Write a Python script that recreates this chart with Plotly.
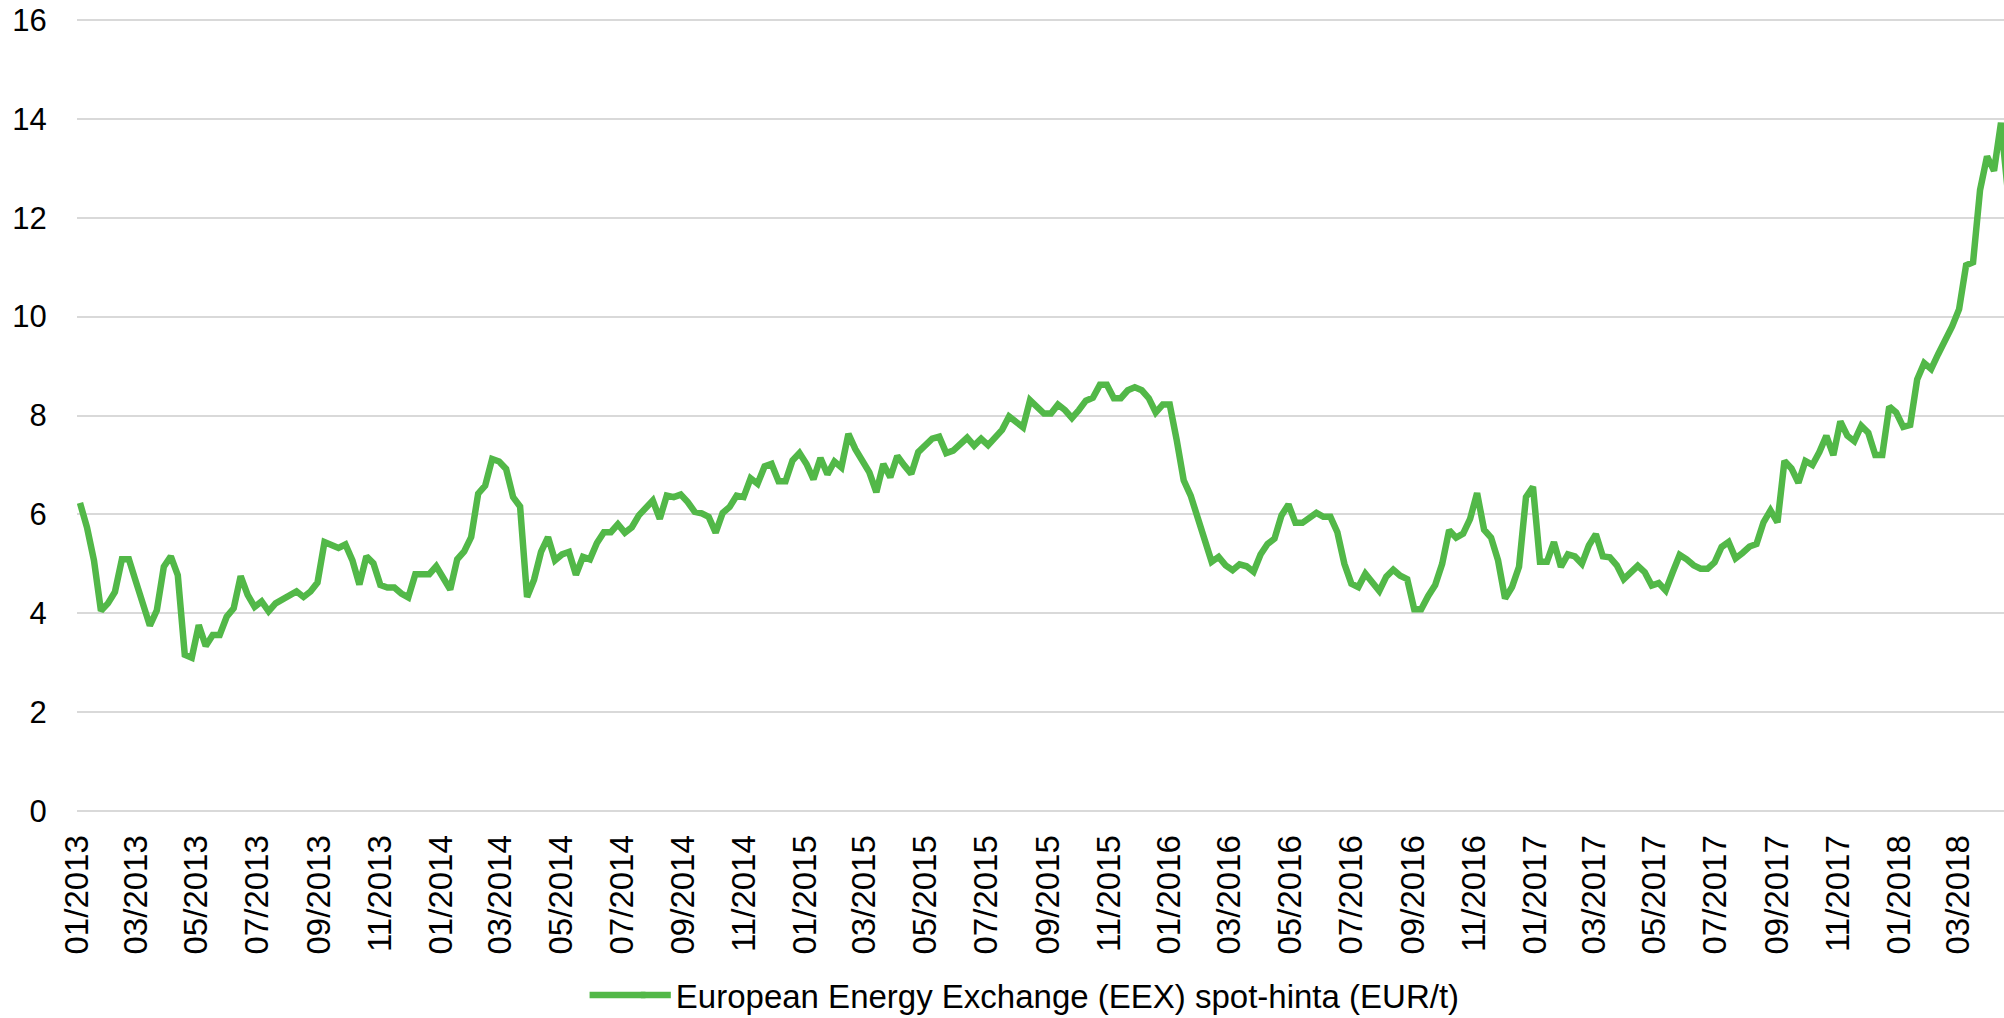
import pandas as pd
import plotly.graph_objects as go

# Weekly EEX spot price for emission allowances, EUR/t (first week of 2013 onwards)
first_week = "2013-01-04"
series_name = "European Energy Exchange (EEX) spot-hinta (EUR/t)"

price_2013 = [
    6.23, 5.74, 5.07, 4.05, 4.20, 4.43, 5.09, 5.09, 4.64, 4.20,
    3.75, 4.06, 4.94, 5.15, 4.77, 3.16, 3.10, 3.76, 3.34, 3.56,
    3.56, 3.93, 4.10, 4.75, 4.37, 4.13, 4.24, 4.04, 4.20, 4.28,
    4.36, 4.44, 4.33, 4.44, 4.62, 5.44, 5.38, 5.32, 5.39, 5.07,
    4.58, 5.15, 5.01, 4.57, 4.52, 4.52, 4.40, 4.32, 4.79, 4.79,
    4.79, 4.95,
]
price_2014 = [
    4.74, 4.48, 5.09, 5.25, 5.54, 6.42, 6.58, 7.12, 7.07, 6.92,
    6.35, 6.16, 4.33, 4.68, 5.24, 5.54, 5.07, 5.19, 5.24, 4.78,
    5.14, 5.09, 5.42, 5.64, 5.64, 5.80, 5.63, 5.74, 5.98, 6.13,
    6.28, 5.91, 6.38, 6.35, 6.40, 6.25, 6.05, 6.02, 5.95, 5.63,
    6.03, 6.15, 6.38, 6.35, 6.73, 6.62, 6.97, 7.02, 6.67, 6.67,
    7.09, 7.24,
]
price_2015 = [
    7.02, 6.71, 7.14, 6.81, 7.07, 6.95, 7.63, 7.32, 7.05, 6.85,
    6.45, 7.02, 6.75, 7.18, 6.99, 6.82, 7.26, 7.39, 7.53, 7.57,
    7.24, 7.29, 7.42, 7.55, 7.39, 7.53, 7.40, 7.55, 7.71, 7.98,
    7.88, 7.76, 8.31, 8.18, 8.04, 8.04, 8.22, 8.11, 7.95, 8.11,
    8.30, 8.36, 8.62, 8.62, 8.35, 8.35, 8.51, 8.57, 8.51, 8.35,
    8.06, 8.22,
]
price_2016 = [
    8.22, 7.50, 6.69, 6.38, 5.95, 5.45, 5.04, 5.14, 4.97, 4.87,
    4.99, 4.95, 4.84, 5.19, 5.40, 5.51, 5.98, 6.20, 5.83, 5.83,
    5.92, 6.03, 5.95, 5.95, 5.64, 5.00, 4.60, 4.53, 4.80, 4.60,
    4.45, 4.74, 4.88, 4.76, 4.69, 4.08, 4.08, 4.35, 4.57, 5.00,
    5.68, 5.53, 5.61, 5.91, 6.43, 5.69, 5.53, 5.07, 4.30, 4.53,
    4.94, 6.35,
]
price_2017 = [
    6.56, 5.04, 5.04, 5.44, 4.94, 5.19, 5.15, 5.00, 5.37, 5.60,
    5.15, 5.13, 4.97, 4.69, 4.84, 4.96, 4.83, 4.56, 4.61, 4.46,
    4.83, 5.18, 5.09, 4.97, 4.90, 4.90, 5.03, 5.34, 5.44, 5.11,
    5.22, 5.35, 5.40, 5.84, 6.08, 5.84, 7.08, 6.93, 6.64, 7.08,
    7.00, 7.26, 7.59, 7.20, 7.88, 7.59, 7.48, 7.79, 7.65, 7.20,
    7.20, 8.18,
]
price_2018 = [
    8.06, 7.77, 7.81, 8.73, 9.06, 8.94, 9.24, 9.50, 9.80, 10.15,
    11.04, 11.10, 12.56, 13.24, 12.95, 13.92, 12.50,
]

prices = price_2013 + price_2014 + price_2015 + price_2016 + price_2017 + price_2018
weeks = pd.date_range(first_week, periods=len(prices), freq="7D")

y_ticks = [0, 2, 4, 6, 8, 10, 12, 14, 16]

font_family = "Liberation Sans, Arial, sans-serif"
line_green = "#52B848"

# legend placement (paper coordinates, below the plot)
legend_x = 0.29
legend_y = -0.229

fig = go.Figure()
fig.add_trace(
    go.Scatter(
        x=weeks,
        y=prices,
        mode="lines",
        name=series_name,
        line=dict(color=line_green, width=6.5),
    )
)

# longer legend key line, extending the built-in symbol to the left
fig.add_shape(
    type="line",
    xref="paper",
    yref="paper",
    x0=0.266,
    x1=0.295,
    y0=legend_y,
    y1=legend_y,
    line=dict(color=line_green, width=6.5),
)

fig.update_layout(
    width=2004,
    height=1018,
    margin=dict(l=77, r=0, t=18, b=205, autoexpand=False),
    paper_bgcolor="white",
    plot_bgcolor="white",
    font=dict(family=font_family, size=31, color="#000000"),
    showlegend=True,
    legend=dict(
        orientation="h",
        x=legend_x,
        xanchor="left",
        y=legend_y,
        yanchor="middle",
        font=dict(family=font_family, size=33, color="#000000"),
        bgcolor="rgba(0,0,0,0)",
    ),
)

fig.update_xaxes(
    type="date",
    range=["2013-01-01", "2018-04-16"],
    tick0="2013-01-01",
    dtick="M2",
    tickformat="%m/%Y",
    tickangle=-90,
    ticks="outside",
    ticklen=8,
    tickcolor="rgba(0,0,0,0)",
    showgrid=False,
    showline=False,
    zeroline=False,
    automargin=False,
    tickfont=dict(family=font_family, size=33, color="#000000"),
)

fig.update_yaxes(
    range=[-0.04, 16.04],
    tickvals=y_ticks,
    showgrid=True,
    gridcolor="#D9D9D9",
    gridwidth=2,
    zeroline=False,
    showline=False,
    ticks="outside",
    ticklen=23,
    tickcolor="rgba(0,0,0,0)",
    automargin=False,
    tickfont=dict(family=font_family, size=31, color="#000000"),
)

fig.write_html("out.html")
